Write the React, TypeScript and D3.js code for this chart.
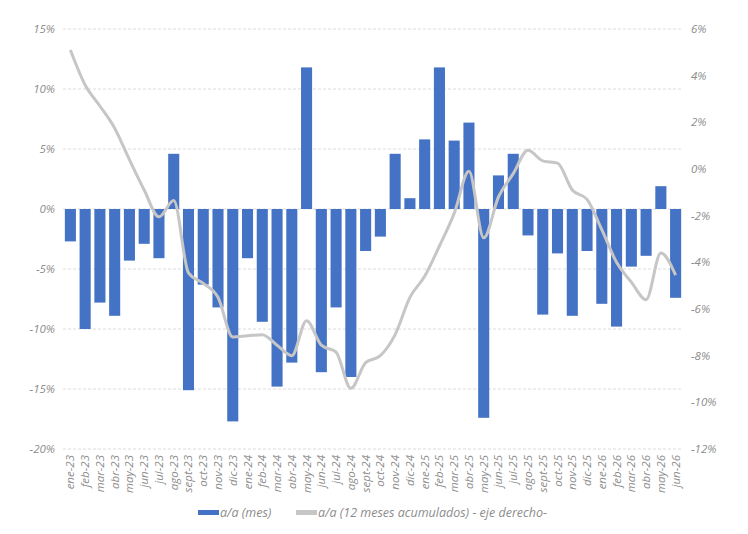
import React, { useRef, useEffect } from 'react';
import * as d3 from 'd3';

const months = [
  'ene-23', 'feb-23', 'mar-23', 'abr-23', 'may-23', 'jun-23', 'jul-23', 'ago-23', 'sept-23', 'oct-23', 'nov-23', 'dic-23',
  'ene-24', 'feb-24', 'mar-24', 'abr-24', 'may-24', 'jun-24', 'jul-24', 'ago-24', 'sept-24', 'oct-24', 'nov-24', 'dic-24',
  'ene-25', 'feb-25', 'mar-25', 'abr-25', 'may-25', 'jun-25', 'jul-25', 'ago-25', 'sept-25', 'oct-25', 'nov-25', 'dic-25',
  'ene-26', 'feb-26', 'mar-26', 'abr-26', 'may-26', 'jun-26',
];

// a/a (mes), left axis, %
const monthly = [
  -2.7, -10.0, -7.8, -8.9, -4.3, -2.9, -4.1, 4.6, -15.1, -6.3, -8.2, -17.7,
  -4.1, -9.4, -14.8, -12.8, 11.8, -13.6, -8.2, -14.0, -3.5, -2.3, 4.6, 0.9,
  5.8, 11.8, 5.7, 7.2, -17.4, 2.8, 4.6, -2.2, -8.8, -3.7, -8.9, -3.5,
  -7.9, -9.8, -4.8, -3.9, 1.9, -7.4,
];

// a/a (12 meses acumulados), right axis, %
const cumulative = [
  5.1, 3.6, 2.7, 1.75, 0.4, -0.9, -2.05, -1.35, -4.45, -4.9, -5.5, -7.2,
  -7.15, -7.1, -7.55, -8.0, -6.5, -7.55, -7.85, -9.4, -8.3, -8.0, -7.1, -5.5,
  -4.6, -3.3, -1.9, -0.1, -2.95, -1.2, -0.2, 0.8, 0.35, 0.25, -0.9, -1.3,
  -2.6, -4.0, -4.85, -5.6, -3.6, -4.55,
];

const leftTicks = [15, 10, 5, 0, -5, -10, -15, -20];
const rightTicks = [6, 4, 2, 0, -2, -4, -6, -8, -10, -12];

const W = 748;
const H = 534;
const font = '"Open Sans", sans-serif';
const textColor = '#8c8c8c';

const App = () => {
  const ref = useRef<SVGSVGElement>(null);

  useEffect(() => {
    const svg = d3.select(ref.current);
    svg.selectAll('*').remove();

    const left = 63;
    const right = 683;
    const top = 29;
    const bottom = 449;

    const x = d3.scaleBand().domain(months).range([left, right]).paddingInner(0.25).paddingOuter(0.125);
    const yL = d3.scaleLinear().domain([-20, 15]).range([bottom, top]);
    const yR = d3.scaleLinear().domain([-12, 6]).range([bottom, top]);

    // grid
    svg
      .append('g')
      .selectAll('line')
      .data(leftTicks)
      .enter()
      .append('line')
      .attr('x1', left)
      .attr('x2', right)
      .attr('y1', (d) => yL(d))
      .attr('y2', (d) => yL(d))
      .attr('stroke', '#dcdcdc')
      .attr('stroke-dasharray', '3,2');

    // left axis labels
    svg
      .append('g')
      .selectAll('text')
      .data(leftTicks)
      .enter()
      .append('text')
      .attr('x', 55)
      .attr('y', (d) => yL(d) + 4)
      .attr('text-anchor', 'end')
      .attr('font-family', font)
      .attr('font-style', 'italic')
      .attr('font-size', 11.5)
      .attr('fill', textColor)
      .text((d) => `${d}%`);

    // right axis labels
    svg
      .append('g')
      .selectAll('text')
      .data(rightTicks)
      .enter()
      .append('text')
      .attr('x', 691)
      .attr('y', (d) => yR(d) + 4)
      .attr('text-anchor', 'start')
      .attr('font-family', font)
      .attr('font-style', 'italic')
      .attr('font-size', 11.5)
      .attr('fill', textColor)
      .text((d) => `${d}%`);

    // bars
    svg
      .append('g')
      .selectAll('rect')
      .data(monthly)
      .enter()
      .append('rect')
      .attr('x', (d, i) => x(months[i]) as number)
      .attr('width', x.bandwidth())
      .attr('y', (d) => yL(Math.max(0, d)))
      .attr('height', (d) => Math.abs(yL(d) - yL(0)))
      .attr('fill', '#4472c4');

    // line
    const line = d3
      .line<number>()
      .x((d, i) => (x(months[i]) as number) + x.bandwidth() / 2)
      .y((d) => yR(d))
      .curve(d3.curveMonotoneX);

    svg
      .append('path')
      .datum(cumulative)
      .attr('d', line)
      .attr('fill', 'none')
      .attr('stroke', '#c6c6c6')
      .attr('stroke-width', 3)
      .attr('stroke-linejoin', 'round');

    // x labels
    svg
      .append('g')
      .selectAll('text')
      .data(months)
      .enter()
      .append('text')
      .attr('transform', (d) => `translate(${(x(d) as number) + x.bandwidth() / 2 + 4},455) rotate(-90)`)
      .attr('text-anchor', 'end')
      .attr('font-family', font)
      .attr('font-style', 'italic')
      .attr('font-size', 11.5)
      .attr('fill', textColor)
      .text((d) => d);

    // legend
    const lg = svg.append('g');
    lg.append('rect').attr('x', 198).attr('y', 510).attr('width', 21).attr('height', 5).attr('fill', '#4472c4');
    lg.append('text')
      .attr('x', 220)
      .attr('y', 517)
      .attr('font-family', font)
      .attr('font-style', 'italic')
      .attr('font-size', 12.5)
      .attr('fill', textColor)
      .text('a/a (mes)');
    lg.append('rect').attr('x', 296).attr('y', 510).attr('width', 21).attr('height', 5).attr('fill', '#c6c6c6');
    lg.append('text')
      .attr('x', 318)
      .attr('y', 517)
      .attr('font-family', font)
      .attr('font-style', 'italic')
      .attr('font-size', 12.5)
      .attr('fill', textColor)
      .text('a/a (12 meses acumulados) - eje derecho-');
  }, []);

  return (
    <svg
      ref={ref}
      width={W}
      height={H}
      style={{ position: 'absolute', left: 0, top: 0, background: '#fff' }}
    />
  );
};

export default App;
